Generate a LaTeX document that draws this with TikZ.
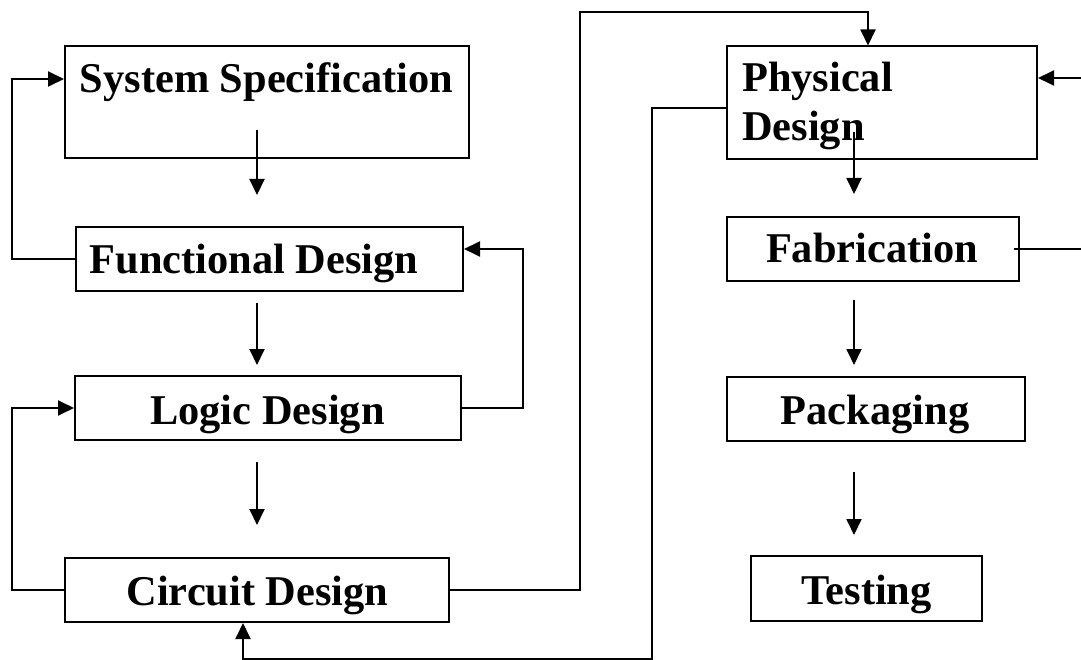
\documentclass[tikz,border=0pt]{standalone}
\usepackage{fontspec}
\setmainfont{Liberation Serif}
\usetikzlibrary{arrows.meta}
\begin{document}
\begin{tikzpicture}[x=1pt,y=-1pt,
  box/.style={draw, line width=2pt, inner sep=0pt},
  lbl/.style={font=\fontsize{42.4}{48.8}\selectfont\bfseries, inner sep=0pt, anchor=base},
  link/.style={line width=1.9pt},
  arr/.style={link, -{Triangle[length=16pt,width=15pt]}}]
\useasboundingbox (0,0) rectangle (1081,660);

% stage boxes
\node[box, minimum width=404pt, minimum height=112pt] (spec)  at (267,102)    {};
\node[box, minimum width=387pt, minimum height=64pt]  (func)  at (269.5,259)  {};
\node[box, minimum width=386pt, minimum height=64pt]  (logic) at (268,408)    {};
\node[box, minimum width=384pt, minimum height=64pt]  (circ)  at (257,590)    {};
\node[box, minimum width=310pt, minimum height=113pt] (phys)  at (882,103)    {};
\node[box, minimum width=292pt, minimum height=64pt]  (fab)   at (873,249)    {};
\node[box, minimum width=298pt, minimum height=64pt]  (pack)  at (876,408.5)  {};
\node[box, minimum width=231pt, minimum height=65pt]  (test)  at (866.5,588.5){};

% stage names
\node[lbl] (specT)  at (266.5,93) {System Specification};
\node[lbl] (funcT)  at (254,273)  {Functional Design};
\node[lbl] (logicT) at (267.5,424){Logic Design};
\node[lbl] (circT)  at (257.5,605){Circuit Design};
\node[lbl, anchor=base west] (physA) at (742,92)  {Physical};
\node[lbl, anchor=base west] (physB) at (742,141) {Design};
\node[lbl] (fabT)   at (872,263)  {Fabrication};
\node[lbl] (packT)  at (875,424)  {Packaging};
\node[lbl] (testT)  at (866.5,604){Testing};

% forward flow, left column
\coordinate (a1s) at (257,130); \coordinate (a1e) at (257,195);
\coordinate (a2s) at (257,303); \coordinate (a2e) at (257,365);
\coordinate (a3s) at (257,462); \coordinate (a3e) at (257,525);
\draw[arr] (a1s) -- (a1e);
\draw[arr] (a2s) -- (a2e);
\draw[arr] (a3s) -- (a3e);

% forward flow, right column
\coordinate (b1s) at (854,132); \coordinate (b1e) at (854,194);
\coordinate (b2s) at (854,300); \coordinate (b2e) at (854,365);
\coordinate (b3s) at (854,472); \coordinate (b3e) at (854,535);
\draw[arr] (b1s) -- (b1e);
\draw[arr] (b2s) -- (b2e);
\draw[arr] (b3s) -- (b3e);

% feedback loops on the left
\coordinate (fl1) at (12,259);
\draw[arr] (func.west) -- (fl1) |- ([yshift=23pt]spec.west);
\coordinate (fl2) at (12,590);
\draw[arr] (circ.west) -- (fl2) |- (logic.west);

% logic back to functional
\coordinate (fr1) at (523,408);
\draw[arr] (logic.east) -- (fr1) |- ([yshift=10pt]func.east);

% circuit on to physical design
\coordinate (cp1) at (580,590);
\coordinate (cp2) at (580,12);
\coordinate (cp3) at (868,12);
\draw[arr] (circ.east) -- (cp1) -- (cp2) -- (cp3) -- (cp3 |- phys.north);

% physical design back to circuit
\coordinate (pc1) at (652,108);
\coordinate (pc2) at (652,659);
\coordinate (pc3) at (243,659);
\draw[arr] ([yshift=-5pt]phys.west) -- (pc1) -- (pc2) -- (pc3) -- (pc3 |- circ.south);

% fabrication back to physical design, along the right edge
\coordinate (fe) at (1081,249);
\draw[link] ([xshift=-6pt]fab.east) -- (fe);
\coordinate (pe) at (1081,78);
\draw[arr] (pe) -- (pe -| phys.east);
\end{tikzpicture}
\end{document}
